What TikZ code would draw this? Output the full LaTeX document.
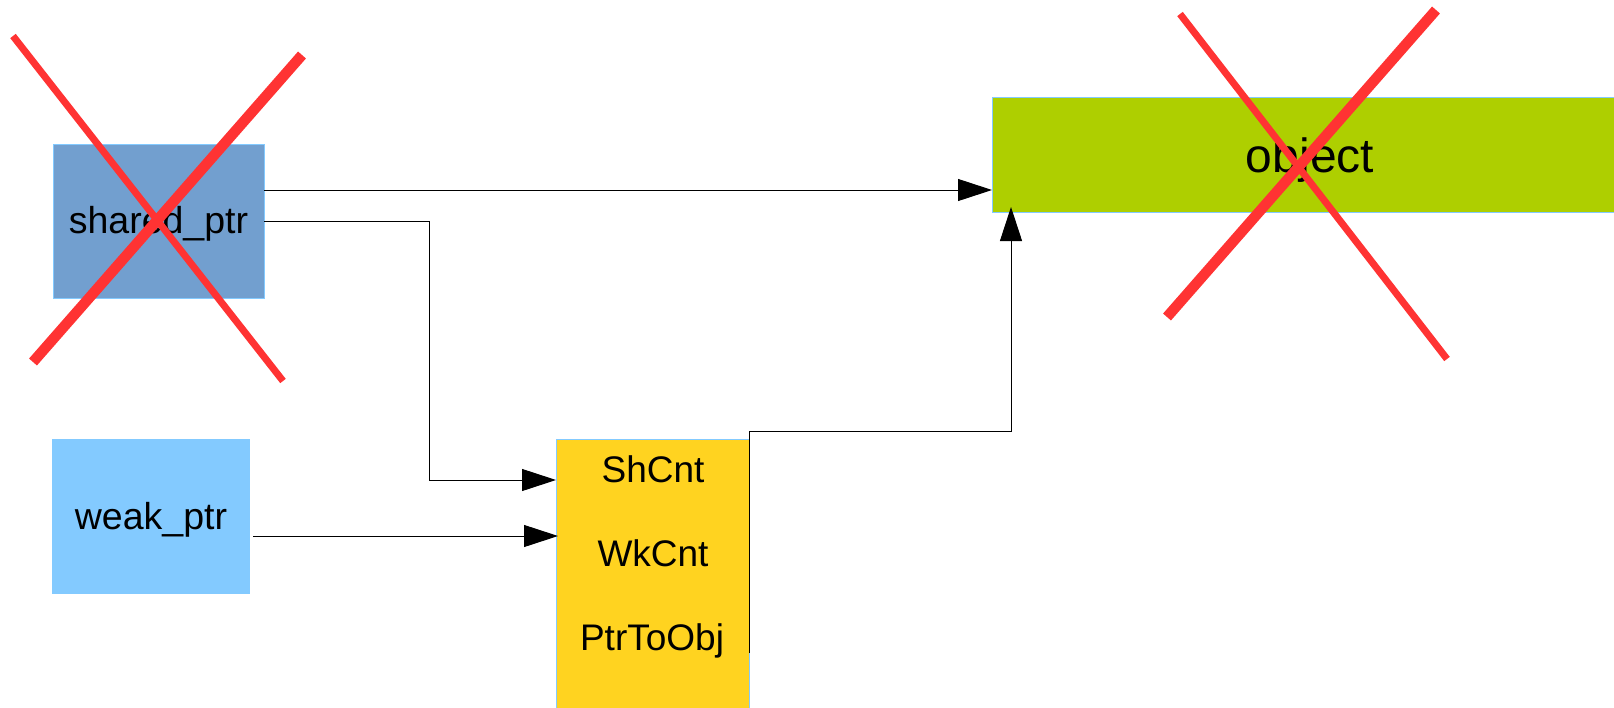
\documentclass[tikz,border=0pt]{standalone}
\usepackage{fontspec}
\setmainfont{Liberation Sans}
\usetikzlibrary{arrows.meta}
\definecolor{sharedc}{HTML}{729FCF}
\definecolor{weakc}{HTML}{83CAFF}
\definecolor{ctrlc}{HTML}{FFD320}
\definecolor{objc}{HTML}{AECF00}
\definecolor{crossc}{HTML}{FF3333}
\definecolor{edgec}{HTML}{83CAFF}
\tikzset{
  box/.style={rectangle, draw=edgec, line width=0.8pt, inner sep=0pt, outer sep=0pt},
  lbl/.style={inner sep=0pt, outer sep=0pt, anchor=base, font=\fontsize{37.5}{40}\selectfont},
  conn/.style={draw=black, line width=1pt, -{Triangle[length=34pt,width=22pt]}},
  xthin/.style={draw=crossc, line width=7pt},
  xthick/.style={draw=crossc, line width=10.5pt},
}
\begin{document}
\begin{tikzpicture}[x=1pt,y=-1pt]
\useasboundingbox (0,0) rectangle (1614,707);
% boxes
\node[box, fill=sharedc, minimum width=211pt, minimum height=154pt] (sp) at (158.5,221) {};
\node[box, fill=weakc, draw=weakc, minimum width=197pt, minimum height=154pt] (wp) at (150.5,516) {};
\node[box, fill=ctrlc, minimum width=193pt, minimum height=290pt] (cb) at (652.5,584) {};
\node[box, fill=objc, minimum width=640pt, minimum height=115pt] (ob) at (1312,154.5) {};
% labels
\node[lbl] (spl) at (158.5,233) {shared\_ptr};
\node[lbl] (wpl) at (151,529) {weak\_ptr};
\node[lbl, font=\fontsize{37}{40}\selectfont] (sh) at (653,482) {ShCnt};
\node[lbl, font=\fontsize{37}{40}\selectfont] (wk) at (653,566) {WkCnt};
\node[lbl, font=\fontsize{37}{40}\selectfont] (po) at (652,650) {PtrToObj};
\node[lbl, font=\fontsize{48}{50}\selectfont] (obl) at (1310,172) {object};
% connectors
\coordinate (a1s) at (264,190);
\coordinate (a1e) at (992,190);
\draw[conn] (a1s) -- (a1e);
\coordinate (a2s) at (264,221);
\coordinate (a2e) at (556,480);
\draw[conn] (a2s) -- (429,221) -- (429,480) -- (a2e);
\coordinate (a3s) at (253,536);
\coordinate (a3e) at (558,536);
\draw[conn] (a3s) -- (a3e);
\coordinate (a4s) at (749,653);
\coordinate (a4e) at (1011,207);
\draw[conn] (a4s) -- (749,431) -- (1011,431) -- (a4e);
% crosses
\draw[xthin] (13,36) -- (283,381);
\draw[xthick] (302,55) -- (33,362);
\draw[xthin] (1180,14) -- (1447,359);
\draw[xthick] (1436,10) -- (1167,317);
\end{tikzpicture}
\end{document}
